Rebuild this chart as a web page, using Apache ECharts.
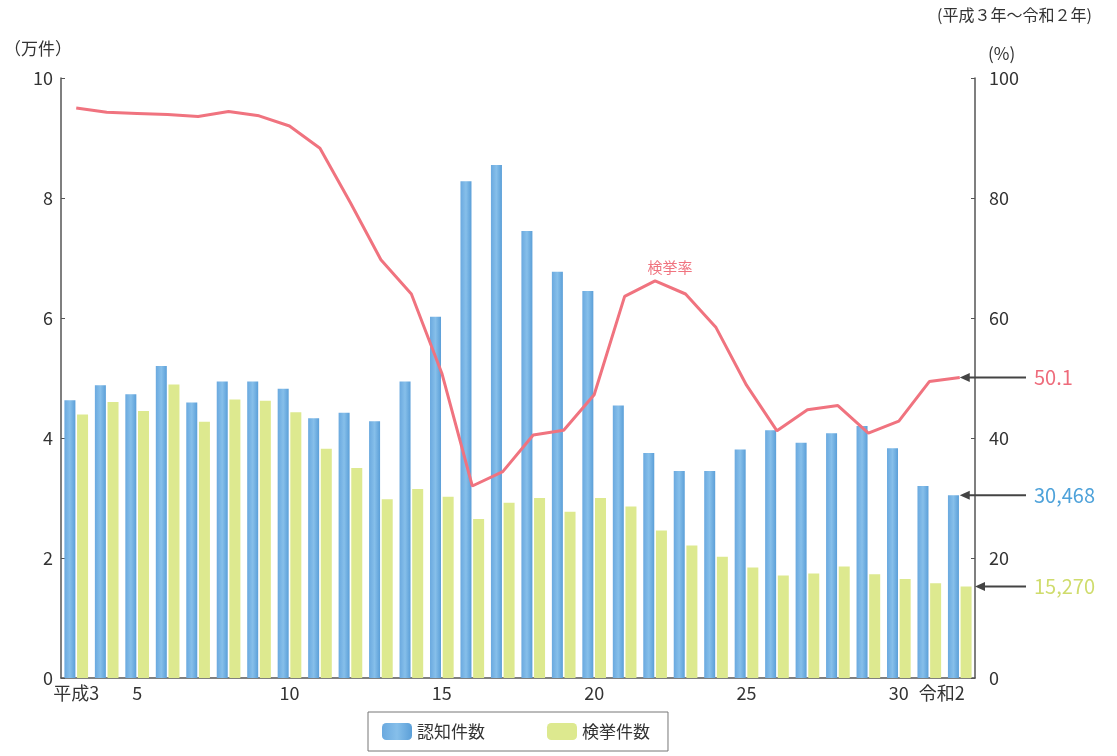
<!DOCTYPE html>
<html>
<head>
<meta charset="utf-8">
<script src="https://cdn.jsdelivr.net/npm/echarts@6/dist/echarts.min.js"></script>
<style>
  html, body { margin: 0; padding: 0; background: #fff; }
  #chart { width: 1117px; height: 756px; }
</style>
</head>
<body>
<div id="chart"></div>
<script>
// 年次（平成3年～令和2年）
const years = ['平成3','4','5','6','7','8','9','10','11','12','13','14','15','16','17',
  '18','19','20','21','22','23','24','25','26','27','28','29','30','令和元','令和2'];
// 横軸に表示する目盛ラベル
const xTickLabels = ['平成3','','5','','','','','10','','','','','15','','',
  '','','20','','','','','25','','','','','30','','令和2'];
// 認知件数（万件）
const recognized = [4.63,4.88,4.73,5.20,4.59,4.94,4.94,4.82,4.33,4.42,4.28,4.94,6.02,8.28,8.55,
  7.45,6.77,6.45,4.54,3.75,3.45,3.45,3.81,4.13,3.92,4.08,4.20,3.83,3.20,3.0468];
// 検挙件数（万件）
const cleared = [4.39,4.60,4.45,4.89,4.27,4.64,4.62,4.43,3.82,3.50,2.98,3.15,3.02,2.65,2.92,
  3.00,2.77,3.00,2.86,2.46,2.21,2.02,1.84,1.71,1.74,1.86,1.73,1.65,1.58,1.527];
// 検挙率（%）
const clearanceRate = [95.0,94.3,94.1,93.9,93.6,94.4,93.7,92.0,88.3,79.2,69.7,64.0,50.8,32.0,34.4,
  40.5,41.3,47.2,63.6,66.2,64.0,58.4,48.8,41.2,44.7,45.4,40.8,42.8,49.4,50.1];
// 最新年の注記
const latestRateText = '50.1';
const latestRecognizedText = '30,468';
const latestClearedText = '15,270';
// 検挙率の系列名ラベルを置く年（平成22年）
const rateLabelIndex = 19;

const FONT = '"Noto Sans CJK JP", "Noto Sans", sans-serif';
const BLUE = new echarts.graphic.LinearGradient(0, 0, 1, 0, [
  { offset: 0, color: '#6aa9df' }, { offset: 0.5, color: '#86bfea' }, { offset: 1, color: '#5b9fd8' }
]);
const GREEN = '#dde98f';
const PINK = '#f0737f';
const AXIS = '#555';

const chart = echarts.init(document.getElementById('chart'), null, { renderer: 'canvas' });

const xData = years.map((y, i) => i === years.length - 1
  ? { value: y, textStyle: { align: 'right', padding: [0, -5, 0, 0] } }
  : y);

chart.setOption({
  animation: false,
  textStyle: { fontFamily: FONT },
  grid: { left: 61, right: 142, top: 78, bottom: 78 },
  legend: {
    left: 368, top: 712,
    data: ['認知件数', '検挙件数'],
    itemWidth: 30, itemHeight: 17, itemGap: 62,
    padding: [11, 18, 11, 14],
    borderColor: '#777', borderWidth: 1,
    textStyle: { fontSize: 17, color: '#333', fontFamily: FONT }
  },
  xAxis: {
    type: 'category',
    data: xData,
    axisLine: { lineStyle: { color: AXIS, width: 1.5 } },
    axisTick: { show: false },
    axisLabel: {
      interval: 0, fontSize: 18, color: '#333', margin: 6,
      formatter: (v, i) => xTickLabels[i]
    }
  },
  yAxis: [
    {
      type: 'value', min: 0, max: 10, interval: 2,
      axisLine: { show: true, lineStyle: { color: AXIS, width: 1.5 } },
      axisTick: { show: true, inside: true, length: 4, lineStyle: { color: AXIS } },
      splitLine: { show: false },
      axisLabel: { fontSize: 18, color: '#333', margin: 8 }
    },
    {
      type: 'value', min: 0, max: 100, interval: 20,
      axisLine: { show: true, lineStyle: { color: AXIS, width: 1.5 } },
      axisTick: { show: true, inside: true, length: 4, lineStyle: { color: AXIS } },
      splitLine: { show: false },
      axisLabel: { fontSize: 18, color: '#333', margin: 14 }
    }
  ],
  series: [
    {
      name: '認知件数', type: 'bar', data: recognized,
      barWidth: 11, barGap: '15%',
      itemStyle: { color: BLUE }
    },
    {
      name: '検挙件数', type: 'bar', data: cleared,
      barWidth: 11,
      itemStyle: { color: GREEN }
    },
    {
      name: '検挙率', type: 'line', yAxisIndex: 1, data: clearanceRate,
      symbol: 'none', lineStyle: { color: PINK, width: 3 },
      itemStyle: { color: PINK }, z: 5
    }
  ]
});

// 最新年の値を指す矢印と注記
function arrow(x1, x2, y, label, color) {
  return [
    { type: 'line', shape: { x1: x1, y1: y, x2: x2 + 8, y2: y }, style: { stroke: '#444', lineWidth: 2 }, z: 20 },
    { type: 'polygon', shape: { points: [[x2, y], [x2 + 10, y - 4.5], [x2 + 10, y + 4.5]] }, style: { fill: '#444' }, z: 20 },
    { type: 'text', x: x1 + 8, y: y, style: { text: label, fill: color, font: '20px ' + FONT, verticalAlign: 'middle' }, z: 20 }
  ];
}
const last = years.length - 1;
const pRate = chart.convertToPixel({ xAxisIndex: 0, yAxisIndex: 1 }, [last, clearanceRate[last]]);
const pRec = chart.convertToPixel({ xAxisIndex: 0, yAxisIndex: 0 }, [last, recognized[last]]);
const pClr = chart.convertToPixel({ xAxisIndex: 0, yAxisIndex: 0 }, [last, cleared[last]]);
const pPeak = chart.convertToPixel({ xAxisIndex: 0, yAxisIndex: 1 }, [rateLabelIndex, clearanceRate[rateLabelIndex]]);
const axisRight = chart.getWidth() - 142;
const startX = 1026;
chart.setOption({
  graphic: [
    { type: 'text', left: 4, top: 40, style: { text: '（万件）', fill: '#333', font: '17px ' + FONT } },
    { type: 'text', left: 988, top: 45, style: { text: '(%)', fill: '#333', font: '17px ' + FONT } },
    { type: 'text', left: 937, top: 7, style: { text: '(平成３年～令和２年)', fill: '#333', font: '16px ' + FONT } },
    { type: 'text', x: pPeak[0] + 15, y: pPeak[1] - 14,
      style: { text: '検挙率', fill: PINK, font: '15px ' + FONT, align: 'center', verticalAlign: 'middle' }, z: 20 },
    ...arrow(startX, pRate[0], pRate[1], latestRateText, '#ee6b7b'),
    ...arrow(startX, pRec[0], pRec[1], latestRecognizedText, '#4ea2da'),
    ...arrow(startX, axisRight, pClr[1], latestClearedText, '#cfdc6c')
  ]
});
</script>
</body>
</html>
